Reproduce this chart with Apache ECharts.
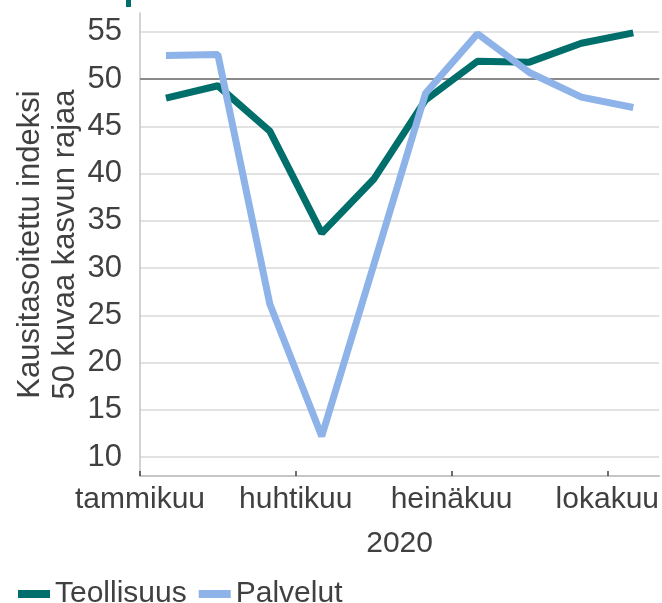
<!DOCTYPE html>
<html>
<head>
<meta charset="utf-8">
<script src="https://cdn.jsdelivr.net/npm/echarts@6/dist/echarts.min.js"></script>
<style>
  html, body { margin: 0; padding: 0; background: #fff; }
  #chart { width: 662px; height: 603px; }
</style>
</head>
<body>
<div id="chart"></div>
<script>
// kuukaudet 2020 (tammi-loka)
const kuukaudet = ['tammikuu', 'helmikuu', 'maaliskuu', 'huhtikuu', 'toukokuu',
    'kesäkuu', 'heinäkuu', 'elokuu', 'syyskuu', 'lokakuu'];
const teollisuus = [48.0, 49.3, 44.5, 33.7, 39.4, 47.8, 51.9, 51.8, 53.8, 54.9];
const palvelut = [52.5, 52.6, 26.2, 12.2, 30.3, 48.5, 54.8, 50.7, 48.1, 47.0];
const yTicks = [10, 15, 20, 25, 30, 35, 40, 45, 50, 55];
const kasvunRaja = 50;

const textColor = '#404040';
const fontFamily = '"Liberation Sans", Arial, sans-serif';

const toPoints = arr => arr.map((v, i) => [i + 0.5, v]);

const myChart = echarts.init(document.getElementById('chart'));
const option = {
    animation: false,
    textStyle: { fontFamily: fontFamily, color: textColor },
    grid: { left: 140, right: 0, top: 13, bottom: 127, containLabel: false },
    graphic: [{
        type: 'rect',
        shape: { x: 126, y: 0, width: 5, height: 7 },
        style: { fill: '#006f6b' }
    }],
    legend: {
        left: 13,
        top: 574,
        icon: 'rect',
        itemWidth: 32,
        itemHeight: 8,
        itemGap: 12,
        textStyle: { fontSize: 30, color: textColor, fontFamily: fontFamily },
        data: ['Teollisuus', 'Palvelut']
    },
    xAxis: {
        type: 'value',
        min: 0,
        max: kuukaudet.length,
        interval: 3,
        name: '2020',
        nameLocation: 'middle',
        nameGap: 53,
        nameTextStyle: { fontSize: 30, color: textColor },
        axisLine: { show: true, lineStyle: { color: '#b4b4b4', width: 1.5 } },
        axisTick: { show: true, inside: true, length: 5, lineStyle: { color: '#404040', width: 1.5 } },
        splitLine: { show: false },
        axisLabel: {
            fontSize: 30,
            color: textColor,
            margin: 9,
            showMaxLabel: false,
            formatter: v => (v % 3 === 0 && v < kuukaudet.length) ? kuukaudet[v] : ''
        }
    },
    yAxis: {
        type: 'value',
        min: 8,
        max: 57,
        name: 'Kausitasoitettu indeksi\n50 kuvaa kasvun rajaa',
        nameLocation: 'middle',
        nameMoveOverlap: false,
        nameGap: 61,
        nameTextStyle: { fontSize: 31, color: textColor, lineHeight: 35, padding: [0, 0, -4, 0] },
        axisLine: { show: true, lineStyle: { color: '#c4c4c4', width: 1.5 } },
        axisTick: { show: false, customValues: yTicks },
        axisLabel: { fontSize: 31, color: textColor, margin: 18, customValues: yTicks },
        splitLine: { show: true, lineStyle: { color: '#d9d9d9', width: 1.5 } }
    },
    series: [
        {
            name: 'Teollisuus',
            type: 'line',
            data: toPoints(teollisuus),
            symbol: 'none',
            color: '#006f6b',
            lineStyle: { width: 7, color: '#006f6b' },
            markLine: {
                silent: true,
                z: 1,
                symbol: ['none', 'none'],
                label: { show: false },
                lineStyle: { color: '#8a8a8a', width: 2, type: 'solid' },
                data: [{ yAxis: kasvunRaja }]
            }
        },
        {
            name: 'Palvelut',
            type: 'line',
            data: toPoints(palvelut),
            symbol: 'none',
            color: '#8db3e8',
            lineStyle: { width: 7, color: '#8db3e8' }
        }
    ]
};
myChart.setOption(option);
</script>
</body>
</html>
